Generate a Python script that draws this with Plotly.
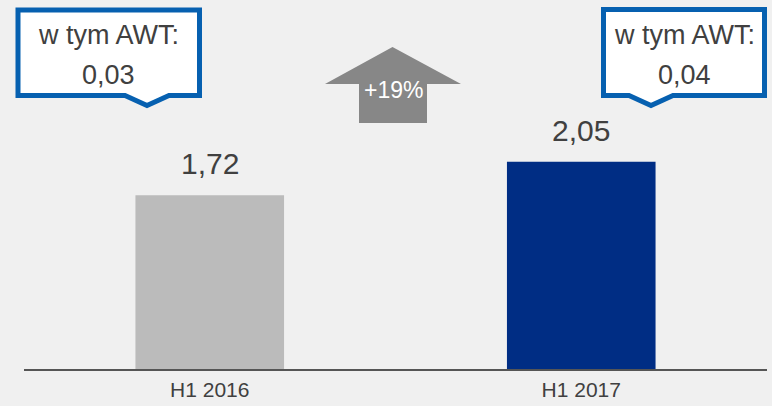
import plotly.graph_objects as go

# ---- data ----
categories = ["H1 2016", "H1 2017"]
values = [1.72, 2.05]
awt_values = [0.03, 0.04]
awt_label = "w tym AWT:"
change_label = "+19%"
bar_colors = ["#bbbbbb", "#002d84"]

# ---- layout constants (pixels) ----
W, H = 772, 406
ML, MR, MT, MB = 24, 5, 0, 37
PW, PH = W - ML - MR, H - MT - MB
FONT = "Arial, Liberation Sans, sans-serif"
TXT = "#404040"
BLUE = "#0660b0"


def px(x):
    return (x - ML) / PW


def py(y):
    return (H - MB - y) / PH


def fmt(v):
    return f"{v:.2f}".replace(".", ",")


def path(points):
    s = "M " + " L ".join(f"{px(x):.5f},{py(y):.5f}" for x, y in points) + " Z"
    return s


fig = go.Figure()
fig.add_trace(go.Bar(
    x=categories, y=values, marker=dict(color=bar_colors, line=dict(width=0)),
    width=0.4, hoverinfo="skip",
))

annotations = []
for c, v in zip(categories, values):
    annotations.append(dict(
        x=c, y=v, xref="x", yref="y", text=fmt(v), showarrow=False,
        yanchor="bottom", xanchor="center", yshift=13,
        font=dict(family=FONT, size=30, color=TXT),
    ))

# callout boxes
boxes = [
    dict(l=18, r=199.5, t=10, b=95.5, pl=125, pr=169, tip=147),
    dict(l=603.5, r=764.5, t=9.5, b=95.5, pl=629, pr=673, tip=651),
]
shapes = []
for bx, awt in zip(boxes, awt_values):
    pts = [(bx["l"], bx["t"]), (bx["r"], bx["t"]), (bx["r"], bx["b"]),
           (bx["pr"], bx["b"]), (bx["tip"], bx["b"] + 10), (bx["pl"], bx["b"]),
           (bx["l"], bx["b"])]
    shapes.append(dict(type="path", xref="paper", yref="paper", path=path(pts),
                       fillcolor="white", line=dict(color=BLUE, width=5),
                       layer="above"))
    cx = (bx["l"] + bx["r"]) / 2
    annotations.append(dict(x=px(cx), y=py(35), xref="paper", yref="paper",
                            text=awt_label, showarrow=False, xanchor="center",
                            yanchor="middle",
                            font=dict(family=FONT, size=27, color=TXT)))
    annotations.append(dict(x=px(cx), y=py(75), xref="paper", yref="paper",
                            text=fmt(awt), showarrow=False, xanchor="center",
                            yanchor="middle",
                            font=dict(family=FONT, size=27, color=TXT)))

# arrow
arrow_pts = [(325, 84), (392.5, 47), (461, 84), (427, 84), (427, 123),
             (359, 123), (359, 84)]
shapes.append(dict(type="path", xref="paper", yref="paper", path=path(arrow_pts),
                   fillcolor="#878787", line=dict(width=0), layer="above"))
annotations.append(dict(x=px(393), y=py(90), xref="paper", yref="paper",
                        text=change_label, showarrow=False, xanchor="center",
                        yanchor="middle",
                        font=dict(family=FONT, size=23, color="white")))

fig.update_layout(
    width=W, height=H,
    margin=dict(l=ML, r=MR, t=MT, b=MB, pad=0),
    paper_bgcolor="#f0f0f0", plot_bgcolor="#f0f0f0",
    showlegend=False, bargap=0.6,
    shapes=shapes, annotations=annotations,
    xaxis=dict(range=[-0.5, 1.5], showline=True, linecolor="#555555", linewidth=2,
               showgrid=False, zeroline=False, ticks="", ticklabelstandoff=1,
               tickfont=dict(family=FONT, size=21, color=TXT), automargin=False,
               fixedrange=True),
    yaxis=dict(range=[0, PH / 101.07], visible=False, showgrid=False,
               zeroline=False, fixedrange=True),
)

fig.write_html(
    "out.html",
    config={"displayModeBar": False},
    post_script="document.body.style.margin='0';document.body.style.padding='0';"
                "document.body.style.background='#f0f0f0';",
)
